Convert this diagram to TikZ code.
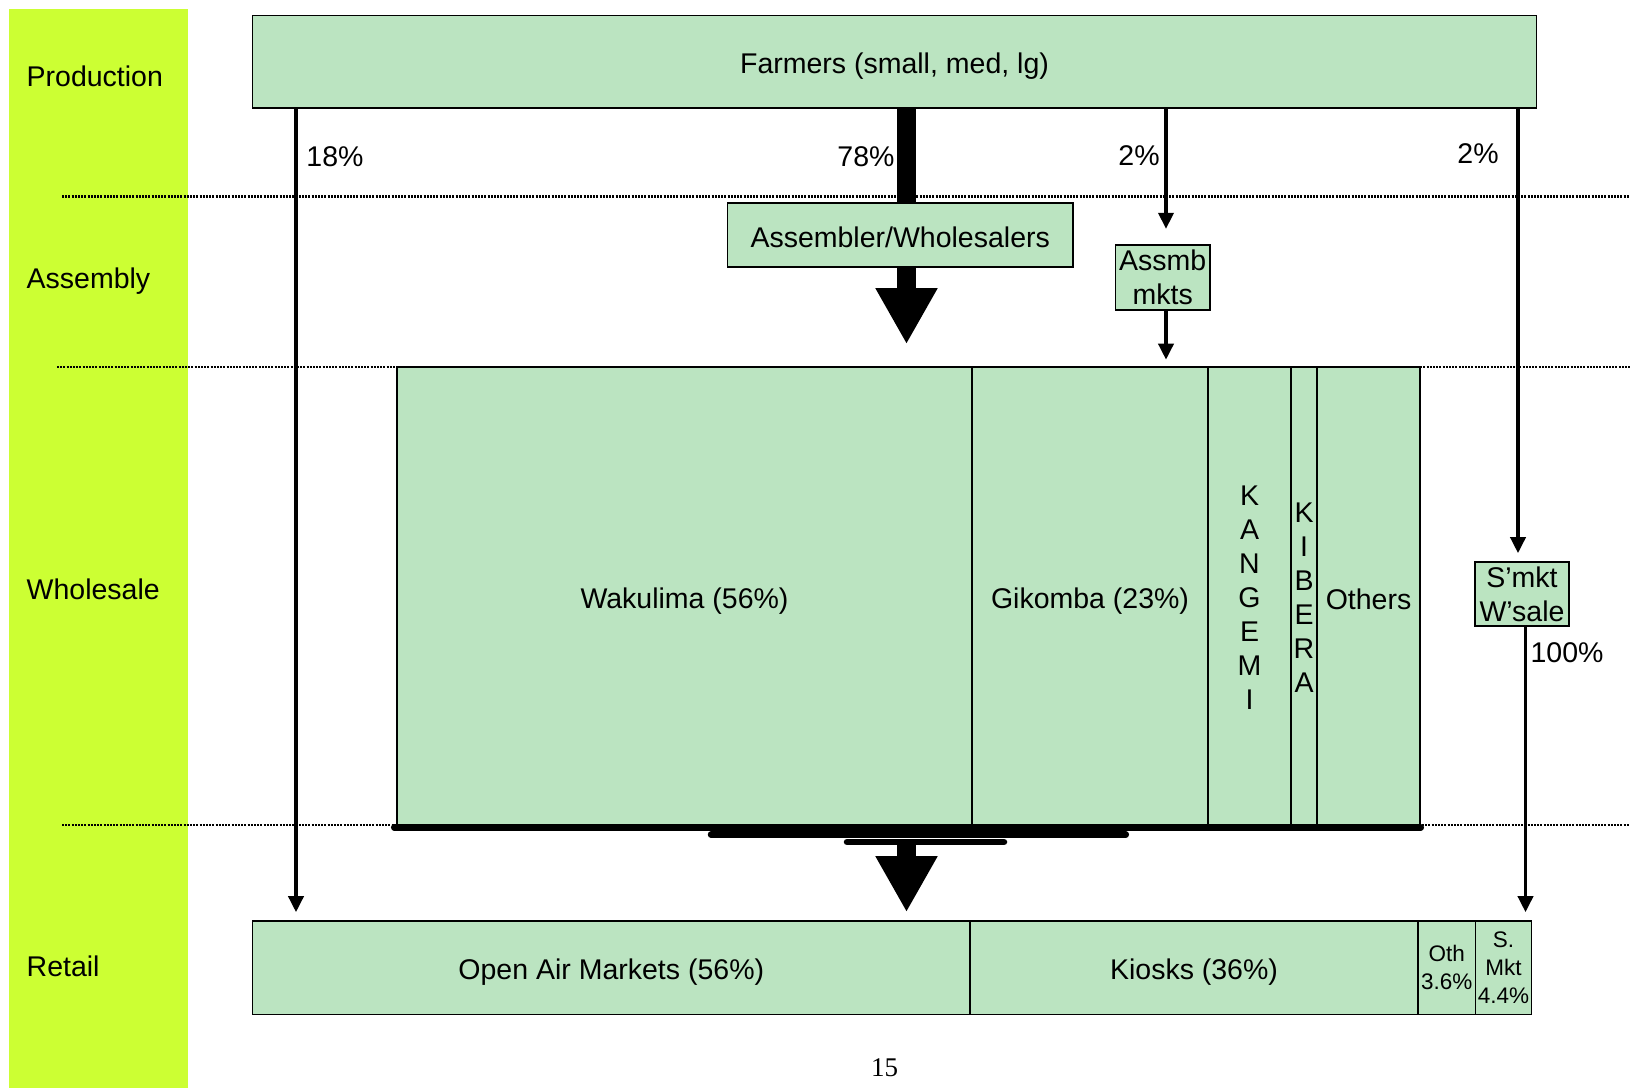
\documentclass[tikz,border=0pt]{standalone}
\usepackage{fontspec}
\setmainfont{Liberation Sans}
\newfontfamily\pagefont{Liberation Serif}
\usetikzlibrary{arrows.meta}
\definecolor{bandlime}{HTML}{CCFF33}
\definecolor{boxgreen}{HTML}{BBE4C1}
\newcommand\bigfs{\fontsize{28.5}{34}\selectfont}
\newcommand\smallfs{\fontsize{22.5}{28}\selectfont}
\newcommand\low[1]{\raisebox{-4pt}[\height][\depth]{#1}}
\begin{document}
\begin{tikzpicture}[x=1pt,y=-1pt,
  box/.style={draw=black, line width=1.6pt, fill=boxgreen, inner sep=0pt, font=\bigfs, align=center},
  lbl/.style={inner sep=0pt, font=\bigfs, align=center},
  dotline/.style={line width=2.4pt, dash pattern=on 2pt off 1.2pt},
  thinarrow/.style={line width=3.6pt, -{Triangle[width=15pt,length=16pt]}},
  bigarrow/.style={line width=19.5pt, -{Triangle[width=58pt,length=56pt]}},
  rule/.style={line width=6.5pt, line cap=round}]
\useasboundingbox (0,0) rectangle (1630,1088);
% lime band
\fill[bandlime] (9,9) rectangle (188,1088);
% stage labels
\node[lbl, anchor=west] (lprod) at (26.5,76) {Production};
\node[lbl, anchor=west] (lass) at (26.5,281) {Assembly};
\node[lbl, anchor=west] (lwhole) at (26.5,589) {Wholesale};
\node[lbl, anchor=west] (lret) at (26.5,966) {Retail};
% dotted separators
\draw[dotline] (62,196.5) -- (1630,196.5);
\draw[dotline] (57,367) -- (1630,367);
\draw[dotline] (62,825) -- (1630,825);
% boxes
\node[box, minimum width=1283.8pt, minimum height=92.4pt] (farm) at (894.5,61.8) {\low{Farmers (small, med, lg)}};
\node[box, minimum width=345.2pt, minimum height=64.5pt] (asm) at (900.2,235) {\raisebox{-2pt}[\height][\depth]{Assembler/Wholesalers}};
\node[box, minimum width=94.6pt, minimum height=64.5pt] (amk) at (1162.7,277.5) {Assmb\\mkts};
\node[box, minimum width=94pt, minimum height=64pt] (smw) at (1522,594) {S’mkt\\W’sale};
% wholesale
\node[box, minimum width=575pt, minimum height=460.5pt] (wak) at (684.5,597.25) {\low{Wakulima (56\%)}};
\node[box, minimum width=236pt, minimum height=460.5pt] (gik) at (1090,597.25) {\low{Gikomba (23\%)}};
\node[box, minimum width=83pt, minimum height=460.5pt] (kan) at (1249.5,597.25) {K\\A\\N\\G\\E\\M\\I};
\node[box, minimum width=26pt, minimum height=460.5pt] (kib) at (1304,597.25) {K\\I\\B\\E\\R\\A};
\node[box, minimum width=103pt, minimum height=460.5pt] (woth) at (1368.5,597.25) {\raisebox{-2pt}[\height][\depth]{Others}};
% retail
\node[box, minimum width=717.4pt, minimum height=93.6pt] (oam) at (611.3,967.8) {\low{Open Air Markets (56\%)}};
\node[box, minimum width=448pt, minimum height=93.6pt] (kio) at (1194,967.8) {\low{Kiosks (36\%)}};
\node[box, minimum width=57.5pt, minimum height=93.6pt, font=\smallfs] (roth) at (1446.75,967.8) {Oth\\3.6\%};
\node[box, minimum width=56pt, minimum height=93.6pt, font=\smallfs] (smk) at (1503.5,967.8) {S.\\Mkt\\4.4\%};
% reference x positions
\coordinate (x18) at (296,0);
\coordinate (x78) at (906.5,0);
\coordinate (x2a) at (1166,0);
\coordinate (x2b) at (1518,0);
\coordinate (x100) at (1525.5,0);
% flows
\draw[thinarrow, shorten >=8pt] (farm.south -| x18) -- (oam.north -| x18);
\draw[line width=19.5pt] (farm.south -| x78) -- (asm.north -| x78);
\draw[bigarrow, shorten >=22pt] (asm.south -| x78) -- (wak.north -| x78);
\draw[thinarrow, shorten >=15.6pt] (farm.south -| x2a) -- (amk.north -| x2a);
\draw[thinarrow, shorten >=6.5pt] (amk.south -| x2a) -- (gik.north -| x2a);
\draw[thinarrow, shorten >=8pt] (farm.south -| x2b) -- (smw.north -| x2b);
\draw[thinarrow, shorten >=8pt] (smw.south -| x100) -- (smk.north -| x100);
% collecting rules under wholesale
\draw[rule] ([xshift=-2pt,yshift=1pt]wak.south west) -- ([yshift=1pt]woth.south east);
\coordinate (r2a) at (711,834.7);
\coordinate (r2b) at (1125.8,834.7);
\coordinate (r3a) at (847,842);
\coordinate (r3b) at (1004,842);
\draw[rule] (r2a) -- (r2b);
\draw[rule] (r3a) -- (r3b);
\coordinate (flowtop) at (906.5,842);
\draw[bigarrow, shorten >=8pt] (flowtop) -- (oam.north -| x78);
% percentage labels
\node[lbl] (p18) at (335,157) {18\%};
\node[lbl] (p78) at (866,157) {78\%};
\node[lbl] (p2a) at (1139,156) {2\%};
\node[lbl] (p2b) at (1478,154) {2\%};
\node[lbl] (p100) at (1567,653) {100\%};
% page number
\node[inner sep=0pt, font=\pagefont\fontsize{27}{32}\selectfont] (pageno) at (884.6,1067.6) {15};
\end{tikzpicture}
\end{document}
